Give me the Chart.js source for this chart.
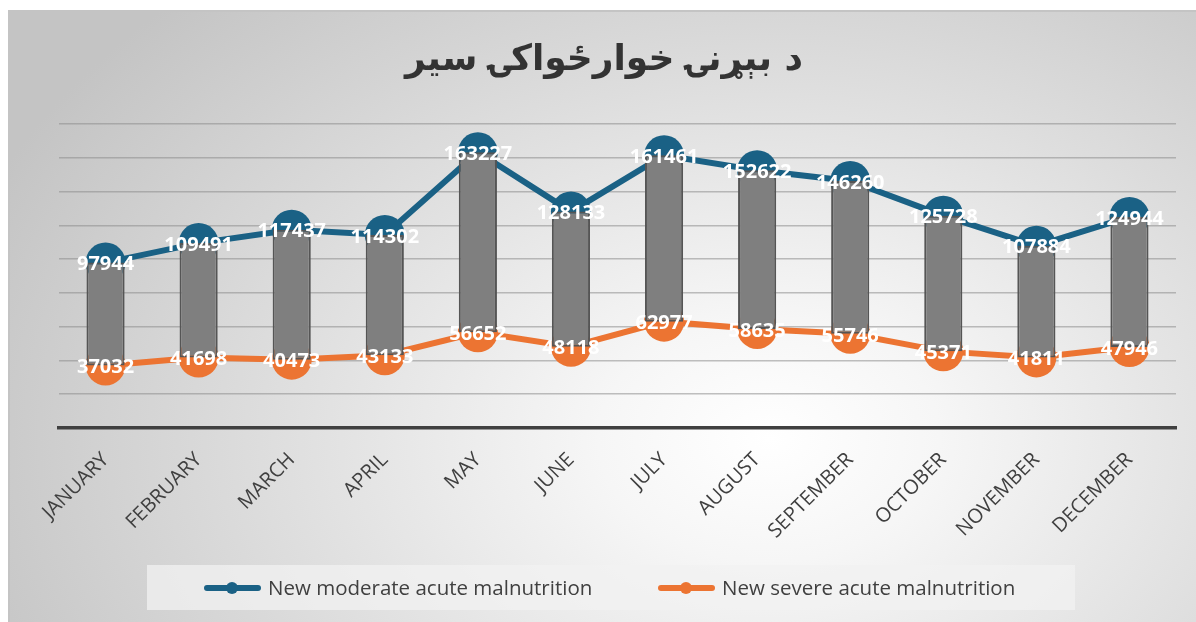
<!DOCTYPE html>
<html lang="ps">
<head>
<meta charset="UTF-8"/>
<title>Malnutrition trend</title>
<script src="https://cdn.jsdelivr.net/npm/chart.js@4.4.0/dist/chart.umd.min.js"></script>
<style>
  html, body { margin: 0; padding: 0; background: #fff; }
  body { width: 1196px; height: 622px; position: relative; overflow: hidden; }
  #frame {
    position: absolute; left: 8px; top: 10px; width: 1188px; height: 612px;
    border-top: 2px solid #c4c4c4; border-left: 2px solid #c4c4c4; box-sizing: border-box;
    background: radial-gradient(ellipse 72% 100% at 64% 70%, #ffffff 0%, #f6f6f6 20%, #dedede 58%, #c4c4c4 100%);
  }
  #title {
    position: absolute; left: 0; width: 1188px; top: 25px; text-align: center;
    font-family: "DejaVu Sans", sans-serif; font-weight: bold; font-size: 36px; color: #333333;
    direction: rtl;
  }
  #wrap { position: absolute; left: 0; top: 0; width: 1186px; height: 610px; }
  #legend {
    position: absolute; left: 137px; top: 553px; width: 928px; height: 45px;
    background: rgba(242,242,242,0.75);
    font-family: "Open Sans", sans-serif; font-size: 20.5px; color: #404040;
  }
  .item { position: absolute; top: 0; height: 45px; line-height: 45px; white-space: nowrap; }
  .icon { position: absolute; top: 20px; width: 57px; height: 6px; border-radius: 3px; }
  .icon::after { content: ""; position: absolute; left: 22px; top: -3px; width: 12px; height: 12px; border-radius: 6px; background: inherit; }
</style>
</head>
<body>
<div id="frame">
  <div id="wrap"><canvas id="chart" width="1186" height="610"></canvas></div>
  <div id="title">د بېړنۍ خوارځواکۍ سیر</div>
  <div id="legend">
    <div class="item" style="left:57px"><span class="icon" style="left:0;background:#1a6185"></span><span style="margin-left:64px">New moderate acute malnutrition</span></div>
    <div class="item" style="left:511px"><span class="icon" style="left:0;background:#ec7432"></span><span style="margin-left:64px">New severe acute malnutrition</span></div>
  </div>
</div>
<script>
const months = ['JANUARY', 'FEBRUARY', 'MARCH', 'APRIL', 'MAY', 'JUNE', 'JULY', 'AUGUST', 'SEPTEMBER', 'OCTOBER', 'NOVEMBER', 'DECEMBER'];
const moderate = [97944, 109491, 117437, 114302, 163227, 128133, 161461, 152622, 146260, 125728, 107884, 124944];
const severe = [37032, 41698, 40473, 43133, 56652, 48118, 62977, 58635, 55746, 45371, 41811, 47946];

const blue = '#1a6185';
const orange = '#ec7432';

// white value labels on top of the markers
const valueLabels = {
  id: 'valueLabels',
  afterDatasetsDraw(chart) {
    const ctx = chart.ctx;
    ctx.save();
    ctx.font = 'bold 20px "Open Sans"';
    ctx.fillStyle = '#ffffff';
    ctx.textAlign = 'center';
    ctx.textBaseline = 'middle';
    chart.data.datasets.forEach((ds, i) => {
      if (ds.type !== 'line') return;
      chart.getDatasetMeta(i).data.forEach((pt, j) => {
        ctx.fillText(String(ds.data[j]), pt.x, pt.y + 2);
      });
    });
    ctx.restore();
  }
};

new Chart(document.getElementById('chart'), {
  data: {
    labels: months,
    datasets: [
      {
        type: 'bar',
        label: 'range',
        data: moderate.map((v, i) => [severe[i], v]),
        backgroundColor: '#7f7f7f',
        borderColor: '#555555',
        borderWidth: 2,
        borderSkipped: false,
        barPercentage: 0.41,
        categoryPercentage: 1,
        order: 0
      },
      {
        type: 'line',
        label: 'New moderate acute malnutrition',
        data: moderate,
        borderColor: blue,
        backgroundColor: blue,
        borderWidth: 6,
        pointRadius: 20,
        pointBorderWidth: 0,
        order: 1
      },
      {
        type: 'line',
        label: 'New severe acute malnutrition',
        data: severe,
        borderColor: orange,
        backgroundColor: orange,
        borderWidth: 6,
        pointRadius: 20,
        pointBorderWidth: 0,
        order: 2
      }
    ]
  },
  options: {
    responsive: false,
    animation: false,
    layout: { padding: { top: 112, left: 49, right: 8, bottom: 50 } },
    plugins: { legend: { display: false }, tooltip: { enabled: false } },
    scales: {
      x: {
        offset: true,
        grid: { display: false },
        border: { color: '#404040', width: 3.5 },
        ticks: {
          color: '#404040',
          font: { family: 'Open Sans', size: 20 },
          minRotation: 45,
          maxRotation: 45,
          padding: 12
        },
        afterFit: s => { s.height = 144; }
      },
      y: {
        min: 0,
        max: 180000,
        ticks: { display: false, stepSize: 20000 },
        border: { display: false },
        grid: { color: 'rgba(140,140,140,0.55)', lineWidth: 1.5, drawTicks: false },
        afterFit: s => { s.width = 0; }
      }
    }
  },
  plugins: [valueLabels]
});
</script>
</body>
</html>
